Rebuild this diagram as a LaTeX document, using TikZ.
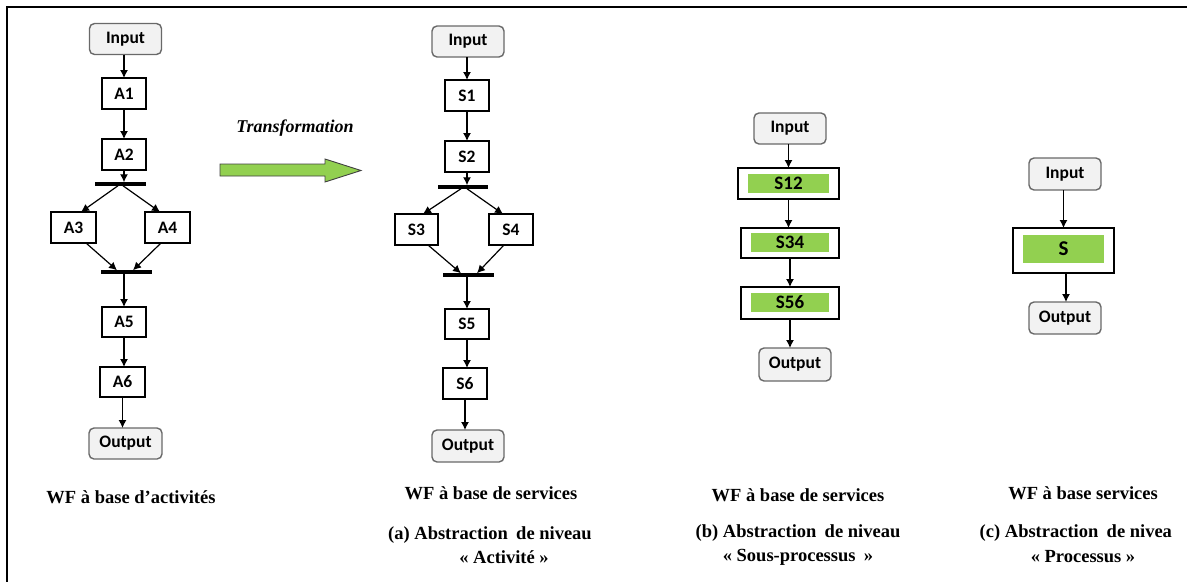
\documentclass[tikz,border=0pt]{standalone}
\usepackage{fontspec}
\setmainfont{Liberation Serif}
\newfontfamily\boxfont{Carlito}
\usetikzlibrary{arrows.meta}
\definecolor{leaf}{RGB}{146,208,80}
\definecolor{ioface}{RGB}{242,242,242}
\definecolor{ioline}{RGB}{105,105,105}
\begin{document}
\begin{tikzpicture}[x=1pt,y=-1pt,
  every node/.style={inner sep=0pt,outer sep=0pt},
  nodefont/.style={font=\boxfont\bfseries\fontsize{17.5}{17.5}\selectfont},
  io/.style={nodefont,draw=ioline,fill=ioface,rounded corners=5pt,line width=1.4pt,minimum width=72pt,minimum height=31pt},
  task/.style={nodefont,draw,line width=1.2pt,fill=white,minimum width=44pt,minimum height=31pt},
  outer/.style={draw,line width=1.2pt,fill=white},
  inner/.style={fill=leaf,font=\boxfont\bfseries\fontsize{19}{19}\selectfont},
  syncbar/.style={fill=black,minimum height=3.5pt,minimum width=51pt},
  flow/.style={line width=1.2pt,-{Latex[length=8pt,width=8pt]}},
  caption/.style={font=\bfseries\fontsize{18.5}{18.5}\selectfont}
]
\useasboundingbox (0,0) rectangle (1187,582);
% frame
\draw[line width=2pt] (1187,7) -- (7,7) -- (7,582);

% ---- activity-based workflow ----
\node[io]   (in1) at (125.5,39)   {Input};
\node[task] (a1)  at (124,93.5)   {A1};
\node[task] (a2)  at (124,154.5)  {A2};
\node[syncbar] (b1) at (120.5,184) {};
\node[task,minimum width=45pt] (a3) at (73.5,227.5)  {A3};
\node[task,minimum width=45pt] (a4) at (167.5,227.5) {A4};
\node[syncbar] (b2) at (126.5,272) {};
\node[task,minimum height=30pt] (a5) at (124,322) {A5};
\node[task,minimum width=45pt,minimum height=30pt] (a6) at (122.5,382) {A6};
\node[io,minimum width=73pt] (out1) at (125.5,443.5) {Output};

\draw[flow] (in1.south -| a1.north) -- (a1.north);
\draw[flow] (a1) -- (a2);
\draw[flow] (a2.south) -- (a2.south |- b1.north);
\draw[flow] ([xshift=-2.5pt]b1.south) -- ([xshift=7.5pt]a3.north);
\draw[flow] ([xshift=2.5pt]b1.south) -- ([xshift=-7.5pt]a4.north);
\draw[flow] ([xshift=12.5pt]a3.south) -- ([xshift=-9.5pt]b2.north);
\draw[flow] ([xshift=-6.5pt]a4.south) -- ([xshift=6.5pt]b2.north);
\draw[flow] (b2.south -| a5.north) -- (a5.north);
\draw[flow] (a5.south) -- (a5.south |- a6.north);
\draw[flow] (a6.south) -- (a6.south |- out1.north);

\node[caption] (cap1) at (131,497) {WF à base d’activités};

% ---- transformation ----
\node[font=\bfseries\itshape\fontsize{18}{18}\selectfont] (tr) at (295,128) {Transformation};
\draw[fill=leaf,draw=black!75,line width=0.9pt,line join=miter]
  (220,164) -- (325,164) -- (325,159) -- (361,170.5) -- (325,182) -- (325,176) -- (220,176) -- cycle;

% ---- service-based workflow, activity level ----
\node[io]   (in2) at (468,41.5)   {Input};
\node[task] (s1)  at (467,95.5)   {S1};
\node[task] (s2)  at (467,156.5)  {S2};
\node[syncbar,minimum width=50pt] (b3) at (463,187) {};
\node[task,minimum width=43pt] (s3) at (416.5,229.5) {S3};
\node[task] (s4) at (511,229.5) {S4};
\node[syncbar] (b4) at (468.5,275) {};
\node[task,minimum height=30pt] (s5) at (467,324) {S5};
\node[task] (s6) at (465,383.5) {S6};
\node[io,minimum height=32pt] (out2) at (468,446) {Output};

\draw[flow] (in2.south -| s1.north) -- (s1.north);
\draw[flow] (s1) -- (s2);
\draw[flow] (s2.south) -- (s2.south |- b3.north);
\draw[flow] ([xshift=-2pt]b3.south) -- ([xshift=6.5pt]s3.north);
\draw[flow] ([xshift=4pt]b3.south) -- ([xshift=-8pt]s4.north);
\draw[flow] ([xshift=11.5pt]s3.south) -- ([xshift=-7.5pt]b4.north);
\draw[flow] ([xshift=-7pt]s4.south) -- ([xshift=8.5pt]b4.north);
\draw[flow] (b4.south -| s5.north) -- (s5.north);
\draw[flow] (s5.south) -- (s5.south |- s6.north);
\draw[flow] (s6.south) -- (s6.south |- out2.north);

\node[caption] (cap2a) at (491,493) {WF à base de services};
\node[caption] (cap2b) at (490,535) {(a) Abstraction\hspace{0.2em} de niveau};
\node[caption] (cap2c) at (504,557) {« Activité »};

% ---- sub-process level ----
\node[io] (in3) at (790,128.5) {Input};
\node[outer,minimum width=101pt,minimum height=31pt] (s12) at (788.5,183.5) {};
\node[inner,minimum width=81pt,minimum height=19pt] (g12) at (788.5,183.5) {S12};
\node[outer,minimum width=98pt,minimum height=30pt] (s34) at (790,243) {};
\node[inner,minimum width=78pt,minimum height=19pt] (g34) at (790,242.5) {S34};
\node[outer,minimum width=98pt,minimum height=32pt] (s56) at (790,303) {};
\node[inner,minimum width=78pt,minimum height=19pt] (g56) at (790,302.5) {S56};
\node[io,minimum height=33pt] (out3) at (795,364.5) {Output};

\draw[flow] (in3.south -| s12.north) -- (s12.north);
\draw[flow] (s12.south) -- (s12.south |- s34.north);
\draw[flow] (s34.south) -- (s34.south |- s56.north);
\draw[flow] (s56.south) -- (s56.south |- out3.north);

\node[caption] (cap3a) at (798,495) {WF à base de services};
\node[caption] (cap3b) at (798,533) {(b) Abstraction\hspace{0.2em} de niveau};
\node[caption] (cap3c) at (798,557) {« Sous-processus\hspace{0.2em} »};

% ---- process level ----
\node[io,minimum height=32pt] (in4) at (1065,174) {Input};
\node[outer,minimum width=101pt,minimum height=45pt] (sall) at (1063.5,250.5) {};
\node[inner,minimum width=81pt,minimum height=28pt,font=\boxfont\bfseries\fontsize{21}{21}\selectfont] (gall) at (1063.5,249) {S};
\node[io,minimum height=32pt] (out4) at (1065,318) {Output};

\draw[flow] (in4.south -| sall.north) -- (sall.north);
\draw[flow] ([xshift=2.5pt]sall.south) -- ([xshift=2.5pt]sall.south |- out4.north);

\node[caption] (cap4a) at (1083,493) {WF à base services};
\node[caption,anchor=east] (cap4b) at (1172,533) {(c) Abstraction\hspace{0.2em} de nivea};
\node[caption] (cap4c) at (1083,557) {« Processus »};
\end{tikzpicture}
\end{document}
